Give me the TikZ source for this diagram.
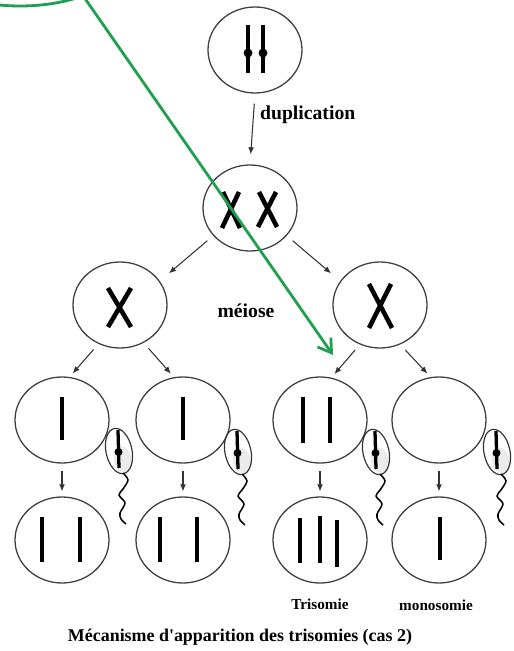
\documentclass[tikz,border=0pt]{standalone}
\usepackage{fontspec}
\setmainfont{Liberation Serif}
\usepackage{xcolor}
\usetikzlibrary{shapes.geometric, arrows.meta, positioning}
\definecolor{vert}{RGB}{30,160,80}

\begin{document}
\begin{tikzpicture}[x=0.03cm, y=-0.03cm, >={Latex[length=6pt,width=5pt]},
    cellule/.style={ellipse, draw=black!75, line width=1.1pt, minimum width=2.82cm, minimum height=2.58cm, inner sep=0pt},
    chromo/.style={line width=3.9pt},
    fleche/.style={->, line width=0.9pt, black!80},
    etiq/.style={font=\bfseries\fontsize{16.8}{18}\selectfont},
    petit/.style={font=\bfseries\fontsize{13}{15}\selectfont}]
    \useasboundingbox (0,0) rectangle (514,651);
    \clip (0,0) rectangle (514,651);

    % Cellules
    \node[cellule] (mere) at (255,50) {};
    \node[cellule] (dup) at (250,208) {};
    \node[cellule] (xg) at (120,305) {};
    \node[cellule] (xd) at (380,305) {};
    \node[cellule] (ga) at (62,420) {};
    \node[cellule] (gb) at (183,420) {};
    \node[cellule] (gc) at (320,420) {};
    \node[cellule] (gd) at (439,420) {};
    \node[cellule] (za) at (62,540) {};
    \node[cellule] (zb) at (183,540) {};
    \node[cellule] (zc) at (320,540) {};
    \node[cellule] (zd) at (439,540) {};

    % Chromosomes
    \draw[chromo] (248,25) -- (248,73) (263,25) -- (263,73);
    \fill (248,53) circle (3.8pt) (263,53) circle (3.8pt);
    \draw[chromo] (223,192) -- (240,228) (239,192) -- (222,228);
    \draw[chromo] (259,192) -- (277,227) (276,192) -- (258,227);
    \draw[chromo] (108,288) -- (131,327) (131,288) -- (108,327);
    \draw[chromo] (369,284) -- (392,328) (391,284) -- (369,328);
    \draw[chromo] (62,397) -- (62,440);
    \draw[chromo] (183,397) -- (183,440);
    \draw[chromo] (303,397) -- (303,443) (330,397) -- (330,443);
    \draw[chromo] (42,517) -- (42,562) (80,517) -- (80,562);
    \draw[chromo] (160,517) -- (160,562) (197,517) -- (197,562);
    \draw[chromo] (300,518) -- (300,563) (320,516) -- (320,563) (337,520) -- (337,567);
    \draw[chromo] (440,517) -- (440,560);

    % Spermatozoides
    \foreach \sx/\sy in {119/451, 238/452, 376/452, 497/452} {
        \begin{scope}[shift={(\sx,\sy)}]
            \fill[black!8, rotate=12] (2,9) ellipse (9 and 13);
            \draw[black!80, line width=1pt, rotate=12] (0,0) ellipse (13 and 23);
            \draw[line width=2.8pt] (-1,-21) -- (0,17);
            \fill (-0.5,1) circle (3.4pt);
            \draw[line width=1.3pt] plot[smooth] coordinates {(4,22) (9,29) (4,38) (0,44) (6,52) (1,62) (2,68) (7,73)};
        \end{scope}
    }

    % Fleches
    \draw[fleche, shorten <=0.3cm, shorten >=0.3cm] (mere.south) -- (dup.north);
    \draw[fleche, shorten <=0.23cm, shorten >=0.36cm] (dup.217) -- (xg.31);
    \draw[fleche, shorten <=0.23cm, shorten >=0.36cm] (dup.323) -- (xd.149);
    \draw[fleche, shorten <=0.22cm, shorten >=0.14cm] (xg.241) -- (ga.80);
    \draw[fleche, shorten <=0.22cm, shorten >=0.14cm] (xg.302) -- (gb.102);
    \draw[fleche, shorten <=0.22cm, shorten >=0.14cm] (xd.243) -- (gc.75);
    \draw[fleche, shorten <=0.22cm, shorten >=0.14cm] (xd.297) -- (gd.101);
    \foreach \g/\z in {ga/za, gb/zb, gc/zc, gd/zd}
        \draw[fleche, shorten <=0.21cm, shorten >=0.15cm] (\g.south) -- (\z.north);

    % Textes
    \node[etiq, anchor=west] (lbldup) at (256,115) {duplication};
    \node[etiq] (lblmei) at (246,311) {méiose};
    \node[petit] (lbltri) at (320,604) {Trisomie};
    \node[petit] (lblmono) at (436,605) {monosomie};
    \node[font=\bfseries\fontsize{15.3}{17}\selectfont] (titre) at (240,637) {Mécanisme d\textquotesingle apparition des trisomies (cas 2)};

    % Repere vert
    \node[ellipse, draw=vert, line width=2.4pt, minimum width=6cm, minimum height=2.76cm] (loupe) at (20,-40) {};
    \coordinate (cible) at (333,355);
    \draw[vert, line width=2.4pt, -{Straight Barb[length=11pt,width=14pt]}] (loupe.330) -- (cible);
\end{tikzpicture}
\end{document}
